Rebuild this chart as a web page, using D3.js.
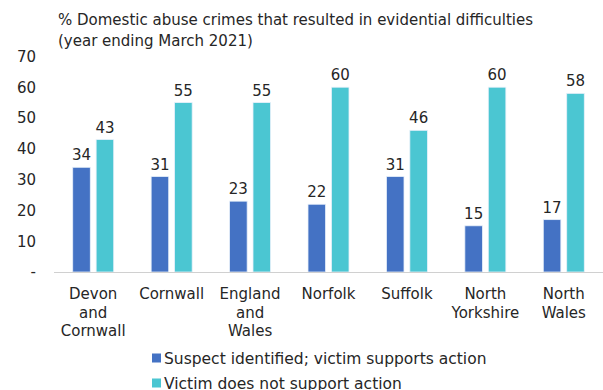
<!DOCTYPE html>
<html><head><meta charset="utf-8">
<script src="https://cdn.jsdelivr.net/npm/d3@7"></script>
<style>body{margin:0;background:#fff}text{font-family:"DejaVu Sans",Verdana,sans-serif;fill:#262626}</style>
</head><body><svg id="c" width="603" height="390"></svg>
<script>
const categories = [["Devon","and","Cornwall"],["Cornwall"],["England","and","Wales"],["Norfolk"],["Suffolk"],["North","Yorkshire"],["North","Wales"]];
const seriesNames = ["Suspect identified; victim supports action","Victim does not support action"];
const suspectValues = [34,31,23,22,31,15,17];
const victimValues = [43,55,55,60,46,60,58];
const yTicks = [0,10,20,30,40,50,60,70];
const titleLines = ["% Domestic abuse crimes that resulted in evidential difficulties","(year ending March 2021)"];
const colors = ["#4472C4","#4BC6D2"];
const FS = 15;

const svg = d3.select("#c");
const x0 = d3.scaleBand().domain(d3.range(categories.length)).range([54,603]).paddingInner(0).paddingOuter(0);
const x1 = d3.scaleBand().domain([0,1]).range([x0.bandwidth()/2-20.5, x0.bandwidth()/2+20.5]).paddingInner(0.25);
const y = d3.scaleLinear().domain([0,70]).range([272,56.4]);

svg.selectAll("text.title").data(titleLines).join("text").attr("class","title")
  .attr("x",58).attr("y",(d,i)=>25+i*21).attr("font-size",FS).text(d=>d);

const yAxis = svg.append("g").attr("transform","translate(36,0)")
  .call(d3.axisLeft(y).tickValues(yTicks).tickSize(0).tickPadding(0).tickFormat(d=>d===0?"-":d));
yAxis.select(".domain").remove();
yAxis.selectAll("text").attr("font-size",FS).attr("fill","#262626").attr("font-family","DejaVu Sans, sans-serif");

const data = categories.map((c,i)=>({i, vals:[suspectValues[i],victimValues[i]]}));
const g = svg.selectAll("g.grp").data(data).join("g").attr("class","grp")
  .attr("transform",d=>`translate(${x0(d.i)},0)`);
g.selectAll("rect").data(d=>d.vals.map((v,s)=>({v,s}))).join("rect")
  .attr("x",d=>x1(d.s)).attr("width",x1.bandwidth())
  .attr("y",d=>y(d.v)).attr("height",d=>y(0)-y(d.v))
  .attr("fill",d=>colors[d.s]).attr("stroke","#e8f0fa").attr("stroke-width",0.8);
g.selectAll("text.val").data(d=>d.vals.map((v,s)=>({v,s}))).join("text").attr("class","val")
  .attr("x",d=>x1(d.s)+x1.bandwidth()/2).attr("y",d=>y(d.v)-7)
  .attr("text-anchor","middle").attr("font-size",FS).text(d=>d.v);

svg.append("line").attr("x1",54).attr("x2",603).attr("y1",y(0)+0.5).attr("y2",y(0)+0.5)
  .attr("stroke","#d0d0d0").attr("stroke-width",1);

g.each(function(d){
  const t = d3.select(this).append("text").attr("text-anchor","middle").attr("font-size",FS);
  categories[d.i].forEach((ln,k)=>t.append("tspan").attr("x",x0.bandwidth()/2).attr("y",299+k*18.5).text(ln));
});

const leg = svg.selectAll("g.leg").data(seriesNames).join("g").attr("class","leg")
  .attr("transform",(d,i)=>`translate(152,${358+i*25})`);
leg.append("rect").attr("x",0).attr("y",-4.5).attr("width",9).attr("height",9).attr("fill",(d,i)=>colors[i]);
leg.append("text").attr("x",12).attr("y",5.5).attr("font-size",15.5).text(d=>d);
</script></body></html>
